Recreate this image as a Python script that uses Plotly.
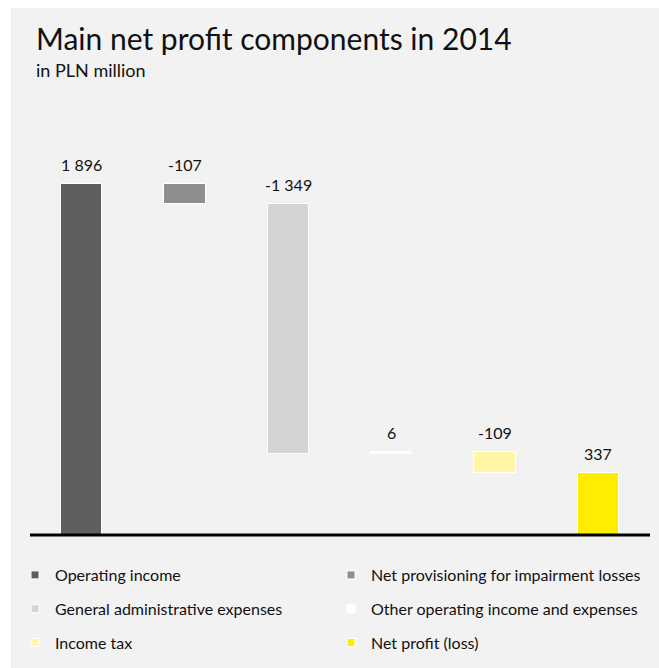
import plotly.graph_objects as go

# Net profit bridge, PLN million
categories = [
    "Operating income",
    "Net provisioning for impairment losses",
    "General administrative expenses",
    "Other operating income and expenses",
    "Income tax",
    "Net profit (loss)",
]
values = [1896, -107, -1349, 6, -109, 337]
is_total = [False, False, False, False, False, True]

bar_colors = ["#5f5f5f", "#8e8e8e", "#d4d4d4", "#ffffff", "#fff7a6", "#ffed00"]
FONT = "Lato"
TEXT = "#111111"

# Floating segments: each step starts where the running sum left off
bases, heights, tops = [], [], []
running = 0
for v, tot in zip(values, is_total):
    if tot:
        base, h = 0, running
    else:
        base = running + min(v, 0)
        h = abs(v)
        running += v
    bases.append(base)
    heights.append(h)
    tops.append(base + h)

x_idx = list(range(len(categories)))


def fmt(v):
    return f"{v:,}".replace(",", " ")


# Figure geometry (pixels)
W, H = 659, 668
ML, MR, MT, MB = 30, 9, 135, 0
PW, PH = W - ML - MR, H - MT - MB
ZERO_PX = 535          # vertical position of the baseline
UNIT_PX = 0.1852       # pixels per PLN million
y_min = -(H - MB - ZERO_PX) / UNIT_PX
y_max = (ZERO_PX - MT) / UNIT_PX


def px_x(p):
    return (p - ML) / PW


def px_y(p):
    return (H - MB - p) / PH


fig = go.Figure()
fig.add_trace(go.Bar(
    x=x_idx, y=heights, base=bases, width=0.4,
    marker=dict(color=bar_colors, line=dict(color="white", width=1)),
    showlegend=False, hoverinfo="skip",
))

# Legend entries in two columns
for i, (name, c) in enumerate(zip(categories, bar_colors)):
    fig.add_trace(go.Scatter(
        x=[None], y=[None], mode="markers", name=name, legendgroup=name,
        legend="legend" if i % 2 == 0 else "legend2",
        marker=dict(symbol="square", size=8, color=c, line=dict(color="white", width=1)),
    ))

annotations = [
    dict(x=i, y=t, text=fmt(v), showarrow=False, xref="x", yref="y",
         yanchor="bottom", yshift=8, font=dict(family=FONT, size=16, color=TEXT))
    for i, t, v in zip(x_idx, tops, values)
]

annotations += [
    dict(x=px_x(34), y=px_y(18), xref="paper", yref="paper", xanchor="left", yanchor="top",
         text="Main net profit components in 2014", showarrow=False,
         font=dict(family=FONT, size=30, color=TEXT)),
    dict(x=px_x(34), y=px_y(57), xref="paper", yref="paper", xanchor="left", yanchor="top",
         text="in PLN million", showarrow=False,
         font=dict(family=FONT, size=18, color=TEXT)),
]

legend_common = dict(
    orientation="v", yanchor="top", xanchor="left", bgcolor="rgba(0,0,0,0)",
    font=dict(family=FONT, size=16, color=TEXT), tracegroupgap=10,
    traceorder="grouped", itemclick=False, itemdoubleclick=False,
)

fig.update_layout(
    width=W, height=H, autosize=False,
    margin=dict(l=ML, r=MR, t=MT, b=MB, pad=0),
    paper_bgcolor="white", plot_bgcolor="rgba(0,0,0,0)",
    bargap=0,
    xaxis=dict(range=[-0.5, 5.5], visible=False, fixedrange=True),
    yaxis=dict(range=[y_min, y_max], visible=False, fixedrange=True),
    showlegend=True,
    legend=dict(x=px_x(15), y=px_y(558), **legend_common),
    legend2=dict(x=px_x(331), y=px_y(558), **legend_common),
    annotations=annotations,
    shapes=[
        dict(type="rect", xref="paper", yref="paper", layer="below",
             x0=px_x(11), x1=px_x(W + 2), y0=px_y(H + 2), y1=px_y(8),
             fillcolor="#f2f2f2", line=dict(width=0)),
        # baseline
        dict(type="line", xref="paper", yref="y", layer="above",
             x0=0, x1=1, y0=0, y1=0, line=dict(color="black", width=3)),
    ],
)

fig.write_html("out.html")
